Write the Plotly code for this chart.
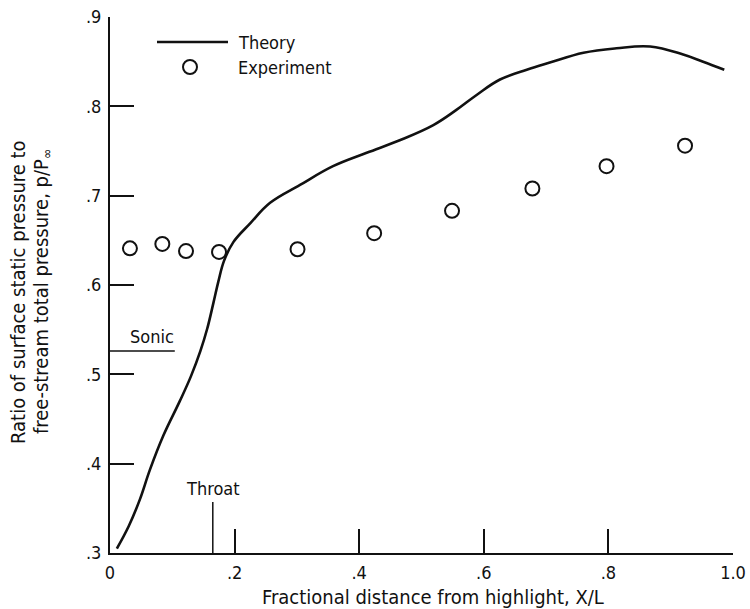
import plotly.graph_objects as go

# Theory curve
theory_x = [0.011, 0.030, 0.048, 0.064, 0.086, 0.112, 0.130, 0.145, 0.156, 0.166, 0.174,
            0.183, 0.198, 0.225, 0.257, 0.305, 0.358, 0.412, 0.465, 0.519, 0.556, 0.589,
            0.626, 0.669, 0.706, 0.760, 0.813, 0.867, 0.920, 0.952, 0.986]
theory_y = [0.305, 0.330, 0.360, 0.393, 0.432, 0.470, 0.498, 0.526, 0.551, 0.580, 0.604,
            0.627, 0.648, 0.669, 0.692, 0.712, 0.733, 0.748, 0.762, 0.779, 0.796, 0.813,
            0.830, 0.841, 0.849, 0.860, 0.865, 0.867, 0.858, 0.850, 0.841]

# Experiment points
exp_x = [0.032, 0.084, 0.122, 0.175, 0.301, 0.424, 0.549, 0.678, 0.797, 0.923]
exp_y = [0.641, 0.646, 0.638, 0.637, 0.640, 0.658, 0.683, 0.708, 0.733, 0.756]

# Reference markers
sonic_y = 0.526
sonic_x_end = 0.104
throat_x = 0.165
throat_top = 0.357

x_ticks = [0, 0.2, 0.4, 0.6, 0.8, 1.0]
x_tick_labels = ["0", ".2", ".4", ".6", ".8", "1.0"]
y_ticks = [0.3, 0.4, 0.5, 0.6, 0.7, 0.8, 0.9]
y_tick_labels = [".3", ".4", ".5", ".6", ".7", ".8", ".9"]

FONT = "DejaVu Sans Condensed, Liberation Sans Narrow, sans-serif"
INK = "#111111"
FS = 18
FT = 20

fig = go.Figure()

fig.add_trace(go.Scatter(x=theory_x, y=theory_y, mode="lines",
                         line=dict(color=INK, width=2.6, shape="spline", smoothing=1.1),
                         showlegend=False, cliponaxis=False))
fig.add_trace(go.Scatter(x=exp_x, y=exp_y, mode="markers",
                         marker=dict(symbol="circle-open", size=14, color=INK,
                                     line=dict(width=2, color=INK)),
                         showlegend=False, cliponaxis=False))

# Sonic line
fig.add_trace(go.Scatter(x=[0, sonic_x_end], y=[sonic_y, sonic_y], mode="lines",
                         line=dict(color=INK, width=1.5), showlegend=False, cliponaxis=False))
# Throat line
fig.add_trace(go.Scatter(x=[throat_x, throat_x], y=[0.3, throat_top], mode="lines",
                         line=dict(color=INK, width=1.5), showlegend=False, cliponaxis=False))

# Legend (manual, in paper coordinates)
def px(xp):
    return (xp - 110) / 623.0

def py(yp):
    return (553 - yp) / 536.0

fig.add_shape(type="line", xref="paper", yref="paper",
              x0=px(157), x1=px(228), y0=py(42), y1=py(42),
              line=dict(color=INK, width=2.4))
fig.add_annotation(xref="paper", yref="paper", x=px(236), y=py(42), text="Theory",
                   showarrow=False, xanchor="left", yanchor="middle",
                   font=dict(family=FONT, size=FS, color=INK))
fig.add_trace(go.Scatter(x=[px(190)], y=[py(67)], xaxis="x2", yaxis="y2", mode="markers",
                         marker=dict(symbol="circle-open", size=14, color=INK,
                                     line=dict(width=2, color=INK)),
                         showlegend=False, cliponaxis=False))
fig.add_annotation(xref="paper", yref="paper", x=px(236), y=py(67), text="Experiment",
                   showarrow=False, xanchor="left", yanchor="middle",
                   font=dict(family=FONT, size=FS, color=INK))

# Sonic / Throat labels
fig.add_annotation(x=0.0, y=sonic_y, text="Sonic", showarrow=False,
                   xanchor="left", yanchor="bottom", xshift=18, yshift=2,
                   font=dict(family=FONT, size=FS, color=INK))
fig.add_annotation(x=throat_x, y=throat_top, text="Throat", showarrow=False,
                   xanchor="center", yanchor="bottom", yshift=1,
                   font=dict(family=FONT, size=FS, color=INK))

# Axis titles
fig.add_annotation(xref="paper", yref="paper", x=px(18), y=py(292),
                   text="Ratio of surface static pressure to", textangle=-90,
                   showarrow=False, xanchor="center", yanchor="middle",
                   font=dict(family=FONT, size=FT, color=INK))
fig.add_annotation(xref="paper", yref="paper", x=px(42), y=py(292),
                   text="free-stream total pressure, p/P<sub>∞</sub>", textangle=-90,
                   showarrow=False, xanchor="center", yanchor="middle",
                   font=dict(family=FONT, size=FT, color=INK))
fig.add_annotation(xref="paper", yref="paper", x=px(433), y=py(597),
                   text="Fractional distance from highlight, X/L",
                   showarrow=False, xanchor="center", yanchor="middle",
                   font=dict(family=FONT, size=FT, color=INK))

fig.update_layout(
    width=750, height=609,
    margin=dict(l=110, r=17, t=17, b=56, autoexpand=False),
    paper_bgcolor="white", plot_bgcolor="white",
    font=dict(family=FONT, size=FS, color=INK),
    xaxis=dict(range=[0, 1.0], tickvals=x_ticks, ticktext=x_tick_labels,
               ticks="inside", ticklen=24, tickwidth=1.5, tickcolor=INK,
               showline=True, linecolor=INK, linewidth=2, showgrid=False, zeroline=False,
               automargin=False,
               tickfont=dict(family=FONT, size=FS), ticklabelstandoff=2),
    yaxis=dict(range=[0.3, 0.9], tickvals=y_ticks, ticktext=y_tick_labels,
               ticks="inside", ticklen=24, tickwidth=1.5, tickcolor=INK,
               showline=True, linecolor=INK, linewidth=2, showgrid=False, zeroline=False,
               automargin=False,
               tickfont=dict(family=FONT, size=FS), ticklabelstandoff=3),
    xaxis2=dict(range=[0, 1], domain=[0, 1], overlaying="x", visible=False),
    yaxis2=dict(range=[0, 1], domain=[0, 1], overlaying="y", visible=False),
)

fig.write_html("out.html", config={"displayModeBar": False},
               post_script="document.body.style.margin='0px';document.body.style.overflow='hidden';")
